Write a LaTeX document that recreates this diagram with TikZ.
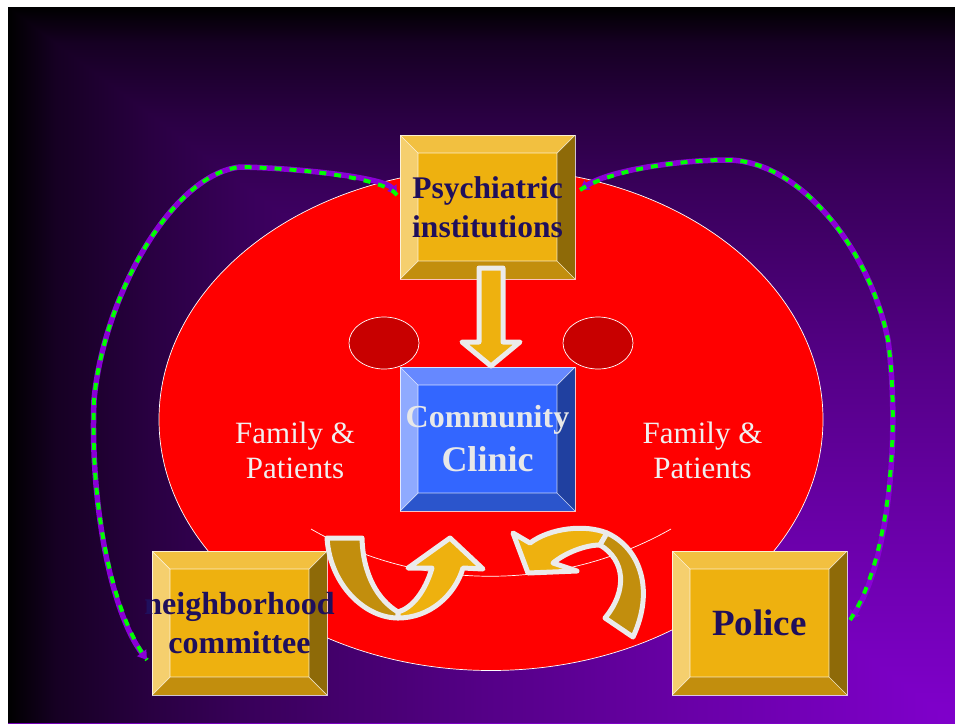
\documentclass[tikz,border=0pt]{standalone}
\usepackage{fontspec}
\setmainfont{Liberation Serif}
\usetikzlibrary{arrows.meta}

\definecolor{bgpurple}{HTML}{8000CC}
\definecolor{gold}{HTML}{EEB10F}
\definecolor{goldtop}{HTML}{F2C040}
\definecolor{goldleft}{HTML}{F5CF6E}
\definecolor{goldright}{HTML}{8E6A08}
\definecolor{goldbottom}{HTML}{C28E0D}
\definecolor{clinicblue}{HTML}{3366FF}
\definecolor{bluetop}{HTML}{6688FF}
\definecolor{blueleft}{HTML}{8FAAFF}
\definecolor{blueright}{HTML}{2040A0}
\definecolor{bluebottom}{HTML}{2B55CC}
\definecolor{darkred}{HTML}{C80000}
\definecolor{navy}{HTML}{1F0F5C}
\definecolor{linkpurple}{HTML}{8A00D6}
\definecolor{outline}{HTML}{EBEBEB}

% background ramps (black corner to purple corner)
\pgfdeclareverticalshading{bgdown}{100bp}{color(0bp)=(bgpurple); color(25bp)=(bgpurple);
  color(37.5bp)=(bgpurple!84!black); color(50bp)=(bgpurple!66!black); color(62.5bp)=(bgpurple!44!black);
  color(67.5bp)=(bgpurple!32!black); color(72.5bp)=(bgpurple!17!black); color(75bp)=(black); color(100bp)=(black)}
\pgfdeclarehorizontalshading{bgright}{100bp}{color(0bp)=(black); color(25bp)=(black);
  color(27.5bp)=(bgpurple!17!black); color(32.5bp)=(bgpurple!32!black); color(37.5bp)=(bgpurple!44!black);
  color(50bp)=(bgpurple!66!black); color(62.5bp)=(bgpurple!84!black); color(75bp)=(bgpurple); color(100bp)=(bgpurple)}

\pgfdeclarelayer{back}
\pgfsetlayers{back,main}

\begin{document}
\begin{tikzpicture}[x=1pt, y=-1pt,
    bevel edge/.style={draw=white, draw opacity=0.75, line width=0.7pt},
    bevel/.style n args={4}{path picture={
        \coordinate (o1) at (path picture bounding box.north west);
        \coordinate (o2) at (path picture bounding box.north east);
        \coordinate (o3) at (path picture bounding box.south east);
        \coordinate (o4) at (path picture bounding box.south west);
        \coordinate (i1) at ([shift={(18,18)}]o1);
        \coordinate (i2) at ([shift={(-18,18)}]o2);
        \coordinate (i3) at ([shift={(-18,-18)}]o3);
        \coordinate (i4) at ([shift={(18,-18)}]o4);
        \fill[#1] (o1) -- (o2) -- (i2) -- (i1) -- cycle;
        \fill[#2] (o1) -- (i1) -- (i4) -- (o4) -- cycle;
        \fill[#3] (o2) -- (o3) -- (i3) -- (i2) -- cycle;
        \fill[#4] (o4) -- (i4) -- (i3) -- (o3) -- cycle;
        \draw[bevel edge] (o1) -- (i1) (o2) -- (i2) (o3) -- (i3) (o4) -- (i4) (i1) rectangle (i3);
    }},
    box/.style={rectangle, inner sep=0pt, outer sep=0pt, minimum width=175pt, minimum height=144pt, bevel edge},
    goldbox/.style={box, fill=gold, bevel={goldtop}{goldleft}{goldright}{goldbottom}},
    bluebox/.style={box, fill=clinicblue, bevel={bluetop}{blueleft}{blueright}{bluebottom}},
    boxtext/.style={font=\bfseries\fontsize{31.5}{39}\selectfont, text=navy, align=center, inner sep=0pt},
    famtext/.style={font=\fontsize{31}{35}\selectfont, text=white!94!black, align=center, inner sep=0pt},
    blockarrow/.style={fill=gold, draw=outline, line width=5pt, line join=round},
    darkarrow/.style={fill=goldbottom, draw=outline, line width=5pt, line join=round},
    link/.style={draw=linkpurple, line width=5.5pt, <->, >={Triangle[length=9pt, width=11pt]},
        postaction={draw=green, -, line width=4pt, dash pattern=on 7pt off 8pt}}]

% page and background
\useasboundingbox (0,0) rectangle (955,723);
\begin{pgfonlayer}{back}
  \fill[white] (0,0) rectangle (955,723);
  \shade[shading=bgdown] (8,7) rectangle (955,723);
  \begin{scope}
    \clip (8,7) -- (8,723) -- (955,723) -- cycle;
    \shade[shading=bgright] (8,7) rectangle (955,723);
  \end{scope}
  % red area
  \draw[fill=red, draw=white, line width=0.7pt] (491,419.5) ellipse [x radius=332, y radius=251];
  \draw[fill=darkred, draw=white, line width=0.7pt] (384,343) ellipse [x radius=35, y radius=26];
  \draw[fill=darkred, draw=white, line width=0.7pt] (598,343) ellipse [x radius=35, y radius=26];
  \draw[white, line width=0.7pt] (311,529) .. controls (420,592) and (560,592) .. (671,529);
\end{pgfonlayer}

% boxes
\node[goldbox] (psych) at (487.5,207) {};
\node[bluebox] (clinic) at (487.5,439) {};
\node[goldbox] (nbhd) at (239.5,623) {};
\node[goldbox] (police) at (759.5,623) {};

% dashed links, kept below the boxes
\begin{pgfonlayer}{back}
  \path[link] ([shift={(-3,-12)}]psych.west) .. controls (385,178) and (300,168) .. (240,167)
      .. controls (170,175) and (103,300) .. (94,400)
      .. controls (90,500) and (110,610) .. ([shift={(-5,37)}]nbhd.west);
  \path[link] ([shift={(5,-17)}]psych.east) .. controls (610,170) and (680,160) .. (727,160)
      .. controls (800,160) and (870,250) .. (888,340)
      .. controls (900,430) and (890,560) .. ([shift={(3,-3)}]police.east);
\end{pgfonlayer}

% texts
\node[boxtext] (psychtext) at (psych) {Psychiatric\\institutions};
\node[boxtext, text=white!91!black, font=\bfseries\fontsize{32}{44}\selectfont] (clinictext) at (clinic) {Community\\{\fontsize{36}{44}\selectfont Clinic}};
\node[boxtext, font=\bfseries\fontsize{32}{39}\selectfont] (nbhdtext) at (nbhd) {neighborhood\\committee};
\node[boxtext, font=\bfseries\fontsize{37}{44}\selectfont] (policetext) at (police) {Police};
\node[famtext] (famleft) at (295,450) {Family \&\\Patients};
\node[famtext] (famright) at (702.5,450) {Family \&\\Patients};

% down arrow
\draw[blockarrow] (479,268) -- (503,268) -- (503,342) -- (520,342) -- (491,366) -- (462,342) -- (479,342) -- cycle;

% left curved arrow
\draw[darkarrow] (327,538) -- (362,538) .. controls (363,575) and (378,600) .. (398,612)
    -- (398,618) .. controls (365,618) and (330,585) .. (327,538) -- cycle;
\draw[blockarrow] (398,618) .. controls (430,618) and (455,595) .. (463,568) -- (483,569) -- (450,538)
    -- (408,568) -- (432,568) .. controls (425,592) and (412,608) .. (398,612) -- cycle;

% right curved arrow
\draw[blockarrow] (513,533) -- (528,573) -- (577,571) -- (553,563) .. controls (565,553) and (585,545) .. (600,545)
    -- (607,533) .. controls (585,524) and (550,528) .. (530,543) -- cycle;
\draw[darkarrow] (607,533) .. controls (640,548) and (655,590) .. (633,637) -- (605,618)
    .. controls (628,590) and (625,560) .. (600,545) -- cycle;
\end{tikzpicture}
\end{document}
